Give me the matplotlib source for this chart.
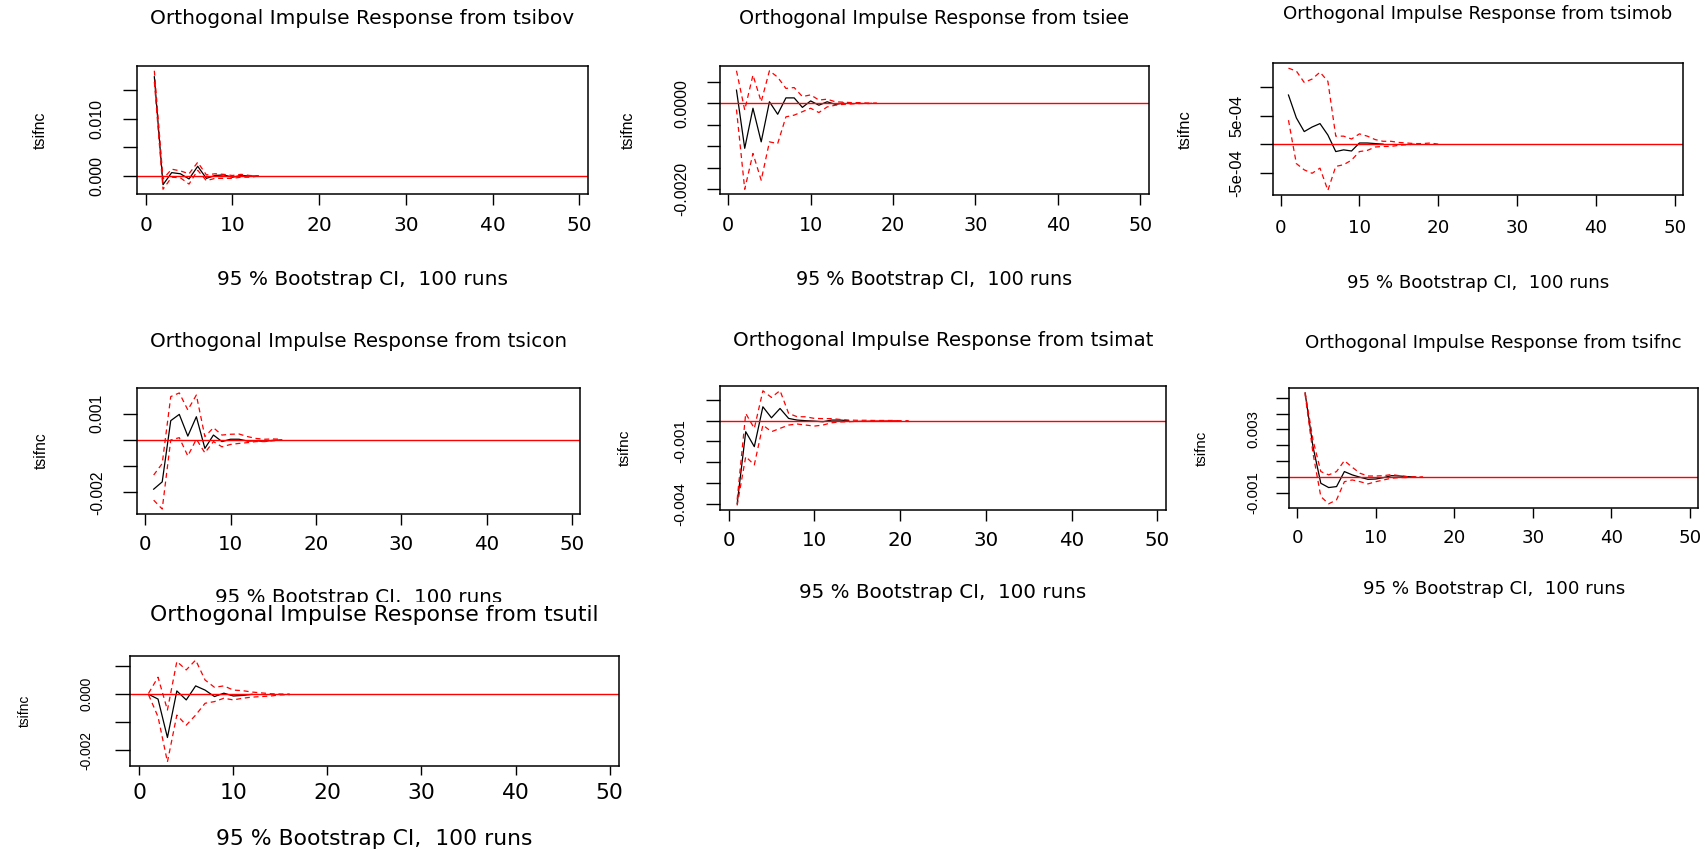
import matplotlib
matplotlib.use('Agg')
import matplotlib.pyplot as plt
from matplotlib.patches import Rectangle

# orthogonal impulse responses of tsifnc, 95 % bootstrap bands (100 runs)
impulses = ['tsibov', 'tsiee', 'tsimob', 'tsicon', 'tsimat', 'tsifnc', 'tsutil']

tsibov_irf = [0.0173, -0.0015, 0.0006, 0.0004, -0.0005, 0.0017, -0.0004, 0.0001, 0.0002,
              -0.0002, 0.0001, 0.0000, 0.0000]
tsibov_upper = [0.01835, -0.0005, 0.0012, 0.0009, 0.0004, 0.0024, 0.0002, 0.0004, 0.0003,
                0.0001, 0.0003, 0.0001, 0.0000]
tsibov_lower = [0.0164, -0.0023, -0.0002, -0.0003, -0.0014, 0.0010, -0.0008, -0.0004, -0.0004,
                -0.0004, -0.0002, -0.0002, 0.0000]

tsiee_irf = [0.0003, -0.00105, -0.00012, -0.0009, 0.00003, -0.00026, 0.00012, 0.00012, -0.0001,
             0.00005, -0.00005, 0.00003, -0.00003, 0.0]
tsiee_upper = [0.00075, -0.00016, 0.00065, 0.00003, 0.00075, 0.0006, 0.00034, 0.00036, 0.00015,
               0.00019, 0.00007, 0.00009, 0.00003, 0.00002, 0.00001, 0.00001, 0.0, 0.0]
tsiee_lower = [-0.00015, -0.002, -0.00117, -0.00179, -0.0009, -0.00094, -0.00032, -0.00028, -0.0002,
               -0.00012, -0.00022, -0.00009, -0.00005, -0.00003, -0.00002, -0.00001, -0.00001, 0.0]

tsimob_irf = [0.00086, 0.00046, 0.00022, 0.0003, 0.00036, 0.00016, -0.00013, -0.0001, -0.00012,
              0.00002, 0.00002, 0.00001, 0.0]
tsimob_upper = [0.00133, 0.00128, 0.00108, 0.00114, 0.00126, 0.0011, 0.00014, 0.00014, 0.00009,
                0.00018, 0.00014, 0.00008, 0.00005, 0.00005, 0.00003, 0.00002, 0.00001, 0.00001,
                0.00002, 0.0]
tsimob_lower = [0.00042, -0.00034, -0.00045, -0.00051, -0.00042, -0.00081, -0.00039, -0.00036,
                -0.00028, -0.00013, -0.00011, -0.00005, -0.00004, -0.00004, -0.00002, -0.00001, 0.0]

tsicon_irf = [-0.00188, -0.0016, 0.00074, 0.00098, 0.00015, 0.00089, -0.00032, 0.00019, -0.00006,
              0.00003, 0.00003, -0.00004, -0.00003, -0.00005, -0.00001, 0.0]
tsicon_upper = [-0.00134, -0.0009, 0.00166, 0.0018, 0.00115, 0.00172, 0.00013, 0.00047, 0.00019,
                0.00022, 0.00023, 0.00013, 0.00006, 0.00003, 0.00004, 0.00003]
tsicon_lower = [-0.0023, -0.00264, 0.0, 0.00009, -0.00061, 0.00003, -0.00049, -0.00006, -0.00026,
                -0.00017, -0.00013, -0.0001, -0.00006, -0.00006, -0.00003, 0.0]

tsimat_irf = [-0.004, -0.00053, -0.00125, 0.00067, 0.00014, 0.00059, 0.00011, 0.00003, 0.0,
              -0.00002, -0.00005, 0.00003, 0.00003, 0.0]
tsimat_upper = [-0.0038, 0.00035, -0.00037, 0.00144, 0.00112, 0.00145, 0.00035, 0.00019, 0.00019,
                0.00011, 0.0001, 0.0001, 0.00006, 0.00003, 0.00002, 0.00002, 0.00001, 0.00001,
                0.00001, 0.0, 0.0]
tsimat_lower = [-0.00408, -0.00173, -0.00213, -0.00021, -0.00053, -0.00037, -0.00021, -0.00016,
                -0.00021, -0.00026, -0.00021, -0.0001, -0.00006, -0.00005, -0.00003, -0.00002,
                -0.00001, -0.00001, 0.0, 0.0]

tsifnc_irf = [0.0053, 0.00192, -0.0004, -0.00067, -0.00061, 0.00034, 0.00013, -0.00002, -0.00015,
              -0.00013, -0.00004, 0.00008, 0.00006, 0.00002, 0.0]
tsifnc_upper = [0.00536, 0.00234, 0.00034, 0.00013, 0.00034, 0.00103, 0.00061, 0.00023, 0.00006,
                0.00006, 0.00008, 0.00015, 0.00008, 0.00002, 0.0, 0.0]
tsifnc_lower = [0.00522, 0.0015, -0.00124, -0.0017, -0.00145, -0.0003, -0.00019, -0.0003, -0.00044,
                -0.0003, -0.00019, -0.00008, -0.00004, -0.00004, -0.00002, -0.00002]

tsutil_irf = [0.0, -0.00017, -0.00154, 0.00012, -0.0002, 0.0003, 0.00015, -0.00008, 0.00004,
              -0.00006, -0.00004, 0.0]
tsutil_upper = [0.00004, 0.00061, -0.00056, 0.00117, 0.00087, 0.00122, 0.00051, 0.00025, 0.0003,
                0.00015, 0.00013, 0.00008, 0.00005, 0.00002, 0.00001, 0.00001]
tsutil_lower = [-0.00002, -0.0008, -0.00241, -0.00074, -0.0011, -0.00074, -0.00032, -0.00026,
                -0.00014, -0.0002, -0.00014, -0.0001, -0.00008, -0.00006, -0.00002, -0.00001]

xticks = [0, 10, 20, 30, 40, 50]
xticklabels = ['0', '10', '20', '30', '40', '50']

tsibov_yticks = [0.0, 0.005, 0.010, 0.015]
tsibov_yticklabels = ['0.000', '', '0.010', '']
tsiee_yticks = [-0.002, -0.0015, -0.001, -0.0005, 0.0, 0.0005]
tsiee_yticklabels = ['-0.0020', '', '', '', '0.0000', '']
tsimob_yticks = [-5e-4, 0.0, 5e-4, 1e-3]
tsimob_yticklabels = ['-5e-04', '', '5e-04', '']
tsicon_yticks = [-0.002, -0.001, 0.0, 0.001]
tsicon_yticklabels = ['-0.002', '', '', '0.001']
tsimat_yticks = [-0.004, -0.003, -0.002, -0.001, 0.0, 0.001]
tsimat_yticklabels = ['-0.004', '', '', '-0.001', '', '']
tsifnc_yticks = [-0.001, 0.0, 0.001, 0.002, 0.003, 0.004, 0.005]
tsifnc_yticklabels = ['-0.001', '', '', '', '0.003', '', '']
tsutil_yticks = [-0.002, -0.001, 0.0, 0.001]
tsutil_yticklabels = ['-0.002', '', '0.000', '']

panels = [
    (tsibov_irf, tsibov_upper, tsibov_lower, tsibov_yticks, tsibov_yticklabels),
    (tsiee_irf, tsiee_upper, tsiee_lower, tsiee_yticks, tsiee_yticklabels),
    (tsimob_irf, tsimob_upper, tsimob_lower, tsimob_yticks, tsimob_yticklabels),
    (tsicon_irf, tsicon_upper, tsicon_lower, tsicon_yticks, tsicon_yticklabels),
    (tsimat_irf, tsimat_upper, tsimat_lower, tsimat_yticks, tsimat_yticklabels),
    (tsifnc_irf, tsifnc_upper, tsifnc_lower, tsifnc_yticks, tsifnc_yticklabels),
    (tsutil_irf, tsutil_upper, tsutil_lower, tsutil_yticks, tsutil_yticklabels),
]

W, H = 1706, 850
# plot boxes in pixels: left, top, right, bottom
boxes = [(137, 66, 588, 194), (720, 66, 1148.5, 194), (1272.7, 63.3, 1682.6, 195.3),
         (136.6, 388.3, 580.5, 513.7), (720, 386, 1166, 510), (1289.4, 387.7, 1697.9, 508.3),
         (129.8, 656, 619, 766)]

PT = 0.72  # px -> pt at dpi 100
ROT_FONT = 'Liberation Sans'

fig = plt.figure(figsize=(W / 100, H / 100), dpi=100)
axes = []
for name, (irf, upper, lower, yt, ytl), (l, t, r, b) in zip(impulses, panels, boxes):
    w, h = r - l, b - t
    ax = fig.add_axes([l / W, 1 - b / H, w / W, h / H])
    axes.append(ax)
    fs = 14.5 * w / 451      # horizontal text
    fr = 11.5 * h / 128      # rotated text
    dash = (0, (4, 3))
    ax.plot(range(1, len(irf) + 1), irf, color='black', lw=0.9)
    ax.plot(range(1, len(upper) + 1), upper, color='red', lw=0.9, ls=dash)
    ax.plot(range(1, len(lower) + 1), lower, color='red', lw=0.9, ls=dash)
    ax.axhline(0, color='red', lw=1.0)

    vals = irf + upper + lower
    lo, hi = min(vals), max(vals)
    ax.set_ylim(lo - 0.04 * (hi - lo), hi + 0.04 * (hi - lo))
    ax.set_xlim(-1, 51)

    xlen = 11 * h / 128
    ylen = 14 * w / 451
    ax.set_xticks(xticks)
    ax.set_xticklabels(xticklabels, fontsize=fs)
    ax.set_yticks(yt)
    ax.set_yticklabels(ytl, fontsize=fr, family=ROT_FONT, rotation=90, ha='center', va='center')
    ax.tick_params(axis='x', length=xlen * PT, width=1.0,
                   pad=(0.232 * h - xlen - 0.395 * fs / PT) * PT)
    ax.tick_params(axis='y', length=ylen * PT, width=1.0,
                   pad=(0.092 * w - ylen - 0.1 * fr / PT) * PT)
    for s in ax.spines.values():
        s.set_linewidth(1.1)

    ax.set_title('Orthogonal Impulse Response from ' + name, fontsize=fs,
                 y=1.37, pad=0, va='center')
    ax.set_xlabel('95 % Bootstrap CI,  100 runs', fontsize=fs, va='center')
    ax.xaxis.set_label_coords(0.5, -0.667)
    ax.set_ylabel('tsifnc', fontsize=fr, family=ROT_FONT, va='center')
    ax.yaxis.set_label_coords(-0.214, 0.5)

# bottom-left plot sits over the lower half of the tsicon axis caption
fig.add_artist(Rectangle((0, 0), 650 / W, (H - 602) / H, transform=fig.transFigure,
                         facecolor='white', edgecolor='none', zorder=1))
axes[-1].set_zorder(2)

fig.savefig('out.png', dpi=100)
